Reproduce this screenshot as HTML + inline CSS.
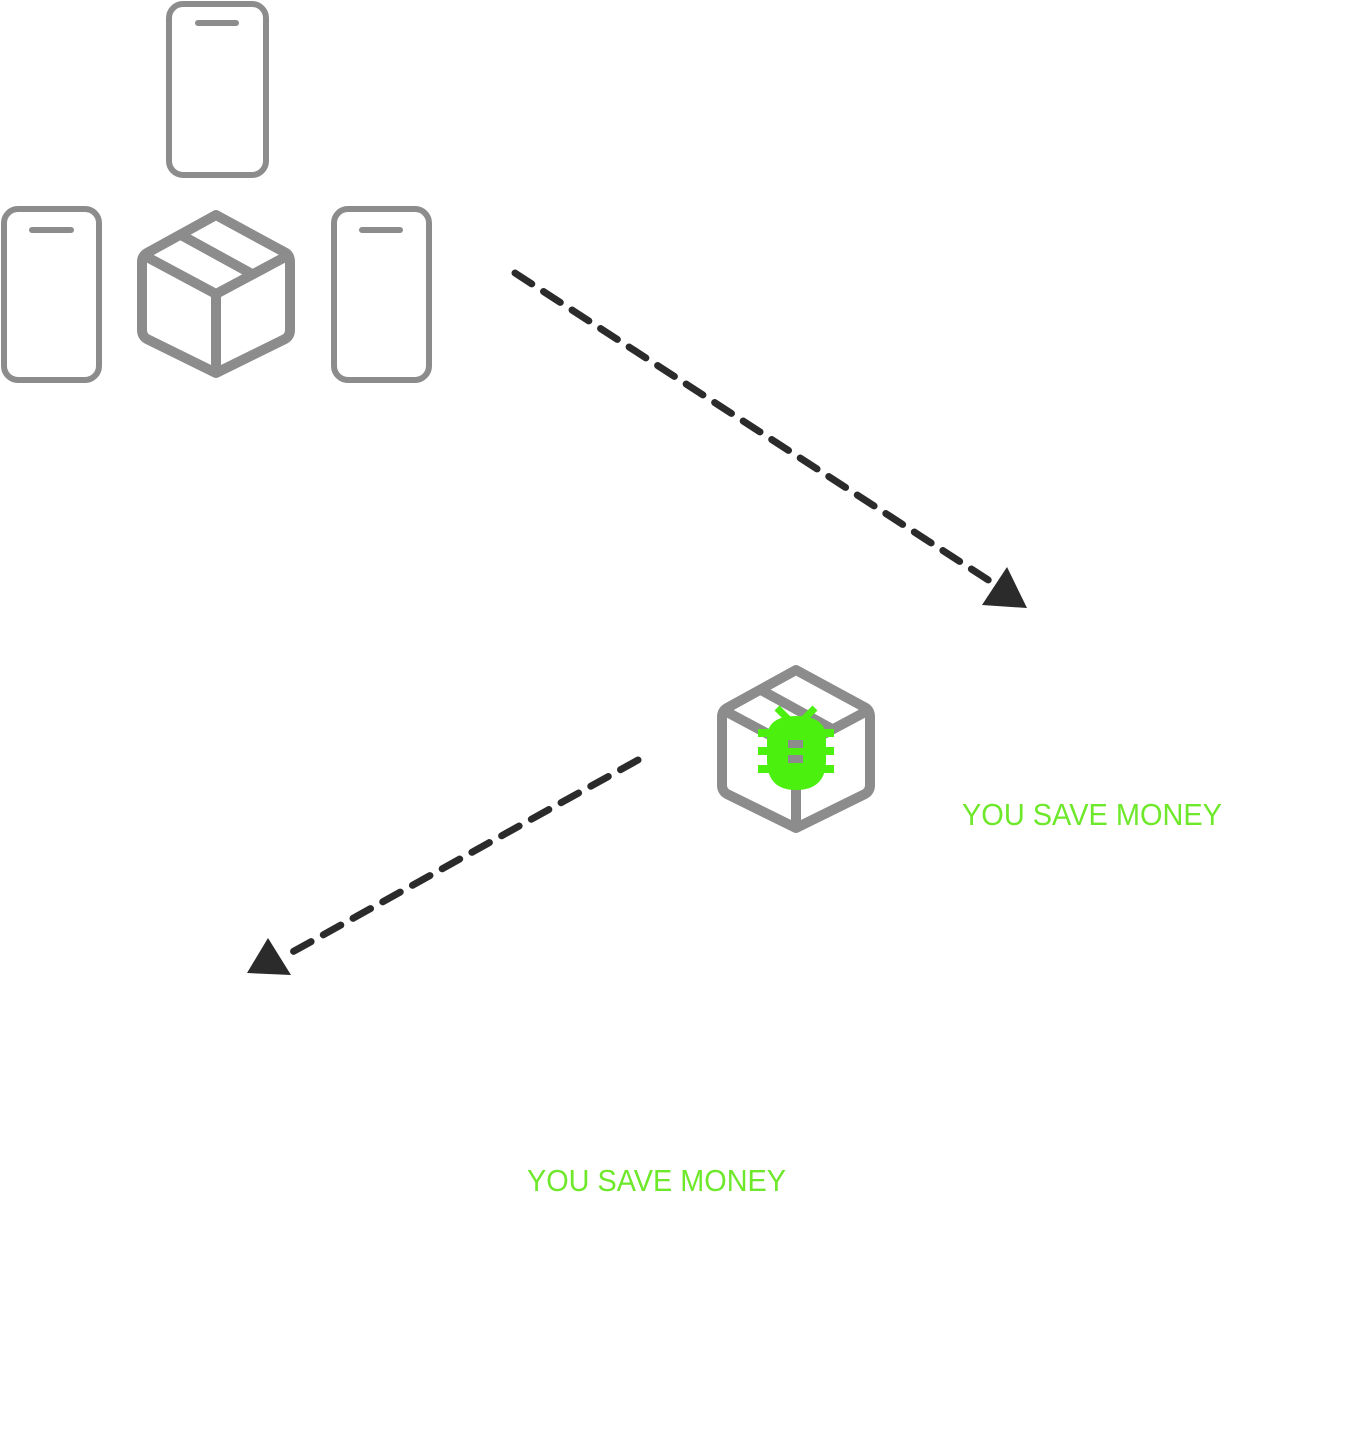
<!DOCTYPE html>
<html><head><meta charset="utf-8"><style>html,body{margin:0;padding:0;background:#fff}svg{display:block}</style></head>
<body>
<svg width="1352" height="1431" viewBox="0 0 1352 1431" xmlns="http://www.w3.org/2000/svg">
<g fill="none" stroke="#8c8c8c" stroke-width="6">
  <rect x="169" y="4" width="97" height="171" rx="14"/>
  <rect x="4" y="209" width="95" height="171" rx="14"/>
  <rect x="334" y="209" width="95" height="171" rx="14"/>
</g>
<g stroke="#8c8c8c" stroke-width="6" stroke-linecap="round">
  <line x1="198" y1="23" x2="236" y2="23"/>
  <line x1="32" y1="230" x2="71" y2="230"/>
  <line x1="362" y1="230" x2="400" y2="230"/>
</g>
<g id="box" fill="none" stroke="#8c8c8c" stroke-width="10" stroke-linejoin="round">
  <path d="M216 215 L286 253 Q290 256 290 262 L290 330 Q290 336 285 339 L216 373 L147 339 Q142 336 142 330 L142 262 Q142 256 147 253 Z"/>
  <path d="M145 256 L216 294 L287 256 M216 294 L216 372 M181 235 L252 274"/>
</g>
<use href="#box" transform="translate(580,455)"/>
<g fill="#4cf00f">
  <path d="M767 738 Q767 716 796 716 Q826 716 826 738 L826 760 Q826 790 796 790 Q767 790 767 760 Z"/>
  <rect x="758" y="729" width="76" height="8"/>
  <rect x="758" y="747" width="76" height="8"/>
  <rect x="758" y="765" width="76" height="8"/>
  <line x1="777" y1="708" x2="788" y2="719" stroke="#4cf00f" stroke-width="7"/>
  <line x1="815" y1="708" x2="804" y2="719" stroke="#4cf00f" stroke-width="7"/>
</g>
<g fill="#8c8c8c">
  <rect x="788" y="740" width="15" height="8"/>
  <rect x="788" y="755" width="15" height="8"/>
</g>
<g stroke="#2b2b2b" stroke-width="7" stroke-linecap="round" stroke-dasharray="20 14" fill="none">
  <line x1="515" y1="273" x2="996" y2="585"/>
  <line x1="638" y1="760" x2="287" y2="955"/>
</g>
<g fill="#2b2b2b">
  <polygon points="982,605 1027,608 1007,567"/>
  <polygon points="247,973 291,975 268,938"/>
</g>
<g font-family="Liberation Sans, sans-serif" font-size="31" fill="#6ee82a">
  <text x="962" y="825" textLength="260" lengthAdjust="spacingAndGlyphs">YOU SAVE MONEY</text>
  <text x="527" y="1191" textLength="259" lengthAdjust="spacingAndGlyphs">YOU SAVE MONEY</text>
</g>
</svg>
</body></html>
